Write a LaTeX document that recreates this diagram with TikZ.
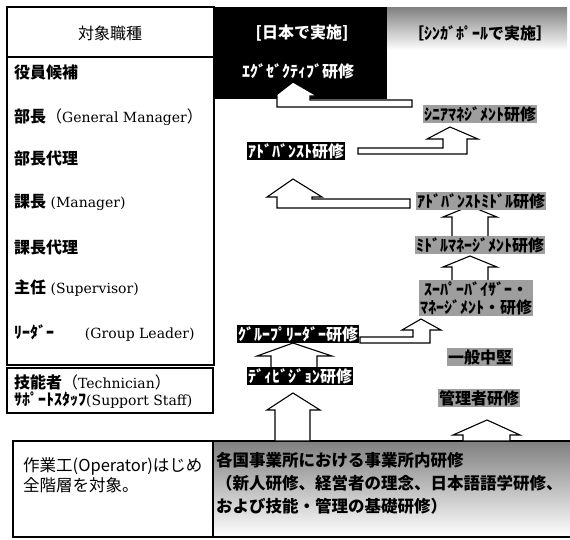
\documentclass[tikz,border=0pt]{standalone}
\usepackage{fontspec}
\setmainfont{DejaVu Serif}
\newfontfamily\jp{Noto Sans CJK JP}
\newcommand{\JB}[1]{{\jp\bfseries\fontsize{16}{18}\selectfont #1}}
\newcommand{\JR}[1]{{\jp\fontsize{16}{18}\selectfont #1}}
\definecolor{shade}{gray}{0.62}
\begin{document}
\begin{tikzpicture}[x=1pt,y=-1pt,
  lbl/.style={font=\jp\bfseries\fontsize{16}{18}\selectfont, inner sep=1pt},
  blk/.style={lbl, fill=black, text=white},
  gry/.style={lbl, fill=shade, text=black},
  hdr/.style={lbl, inner sep=0pt},
  barrow/.style={draw=black, fill=white, line width=1.1pt, line join=miter},
  row/.style={anchor=west, inner sep=0pt, font=\fontsize{14}{16}\selectfont},
  frame/.style={draw=black, line width=1.2pt}]
\useasboundingbox (0,0) rectangle (570,539);
\fill[white] (0,0) rectangle (570,539);

% backgrounds
\fill[black] (214,7) rectangle (387,99);
\fill[shade] (387,7) rectangle (567,50);
\fill[shade] (213,441) rectangle (570,537);
\draw[frame] (213,441) -- (570,441);
\draw[frame] (213,537) -- (570,537);
\draw[frame] (13,441) rectangle (213,537);

% left table
\draw[frame] (7,7) rectangle (214,365);
\draw[frame] (7,57) -- (214,57);
\draw[frame] (7,368) rectangle (213,413);

\node[hdr, font=\jp\fontsize{16}{18}\selectfont] (head) at (110,33) {対象職種};
\node[row] (r1) at (14,72)  {\JB{役員候補}};
\node[row] (r2) at (14,117) {\JB{部長}\JR{（}General Manager\JR{）}};
\node[row] (r3) at (14,158) {\JB{部長代理}};
\node[row] (r4) at (14,202) {\JB{課長}\ (Manager)};
\node[row] (r5) at (14,247) {\JB{課長代理}};
\node[row] (r6) at (14,288) {\JB{主任}\ (Supervisor)};
\node[row] (r7) at (14,333) {\JB{ﾘｰﾀﾞｰ}\hspace{2.2em}(Group Leader)};
\node[row] (r8) at (14,382) {\JB{技能者}\JR{（}Technician\JR{）}};
\node[row] (r9) at (14,400) {\JB{ｻﾎﾟｰﾄｽﾀｯﾌ}(Support Staff)};

\node[anchor=west, inner sep=0pt, align=left,
      font=\jp\fontsize{16.5}{20}\selectfont] (ops) at (23,475)
      {作業工(Operator)はじめ\\全階層を対象。};

% block arrows
\draw[barrow] (412,100) -- (310,100) -- (310,96) -- (317,96) -- (293,82)
  -- (275,96) -- (277,96) -- (277,107) -- (412,107) -- cycle;
\draw[barrow] (358,148) -- (443,148) -- (443,139) -- (427,139) -- (450,127)
  -- (478,139) -- (467,139) -- (467,154) -- (358,154) -- cycle;
\draw[barrow] (410,199) -- (312,199) -- (312,197) -- (322,197) -- (293,179)
  -- (267,197) -- (277,197) -- (277,208) -- (410,208) -- cycle;
\draw[barrow] (452,238) -- (452,217) -- (443,217) -- (470,206) -- (497,217)
  -- (488,217) -- (488,238) -- cycle;
\draw[barrow] (452,282) -- (452,267) -- (443,267) -- (470,256) -- (497,267)
  -- (488,267) -- (488,282) -- cycle;
\draw[barrow] (360,337) -- (413,337) -- (413,330) -- (402,330) -- (421,319)
  -- (441,330) -- (430,330) -- (430,343) -- (360,343) -- cycle;
\draw[barrow] (271,368) -- (271,356) -- (257,356) -- (293,343) -- (332,356)
  -- (317,356) -- (317,368) -- cycle;
\draw[barrow] (275,441) -- (275,410) -- (267,410) -- (293,393) -- (320,410)
  -- (310,410) -- (310,441) -- cycle;
\draw[barrow] (463,441) -- (463,435) -- (453,435) -- (487,420) -- (520,435)
  -- (510,435) -- (510,441) -- cycle;

% labels
\node[hdr, text=white] (jpn) at (302,33) {[日本で実施]};
\node[hdr] (sgp) at (480,33) {［ｼﾝｶﾞﾎﾟｰﾙで実施］};
\node[hdr, text=white] (exec) at (298,71) {ｴｸﾞｾﾞｸﾃｨﾌﾞ研修};
\node[gry] (senior) at (480,114) {ｼﾆｱﾏﾈｼﾞﾒﾝﾄ研修};
\node[blk] (adv) at (296,151) {ｱﾄﾞﾊﾞﾝｽﾄ研修};
\node[gry] (advmid) at (481,201) {ｱﾄﾞﾊﾞﾝｽﾄﾐﾄﾞﾙ研修};
\node[gry] (mid) at (480,245) {ﾐﾄﾞﾙﾏﾈｰｼﾞﾒﾝﾄ研修};
\node[gry, align=center] (supv) at (476,298) {ｽｰﾊﾟｰﾊﾞｲｻﾞｰ・\\ﾏﾈｰｼﾞﾒﾝﾄ・研修};
\node[blk] (grpl) at (298,334) {ｸﾞﾙｰﾌﾟﾘｰﾀﾞｰ研修};
\node[gry] (ippan) at (480,357) {一般中堅};
\node[blk] (div) at (300,376) {ﾃﾞｨﾋﾞｼﾞｮﾝ研修};
\node[gry] (kanri) at (479,398) {管理者研修};

\node[anchor=west, inner sep=0pt, align=left,
      font=\jp\bfseries\fontsize{16.5}{23}\selectfont] (inhouse) at (216,483)
      {各国事業所における事業所内研修\\（新人研修、経営者の理念、日本語語学研修、\\および技能・管理の基礎研修）};
\end{tikzpicture}
\end{document}
